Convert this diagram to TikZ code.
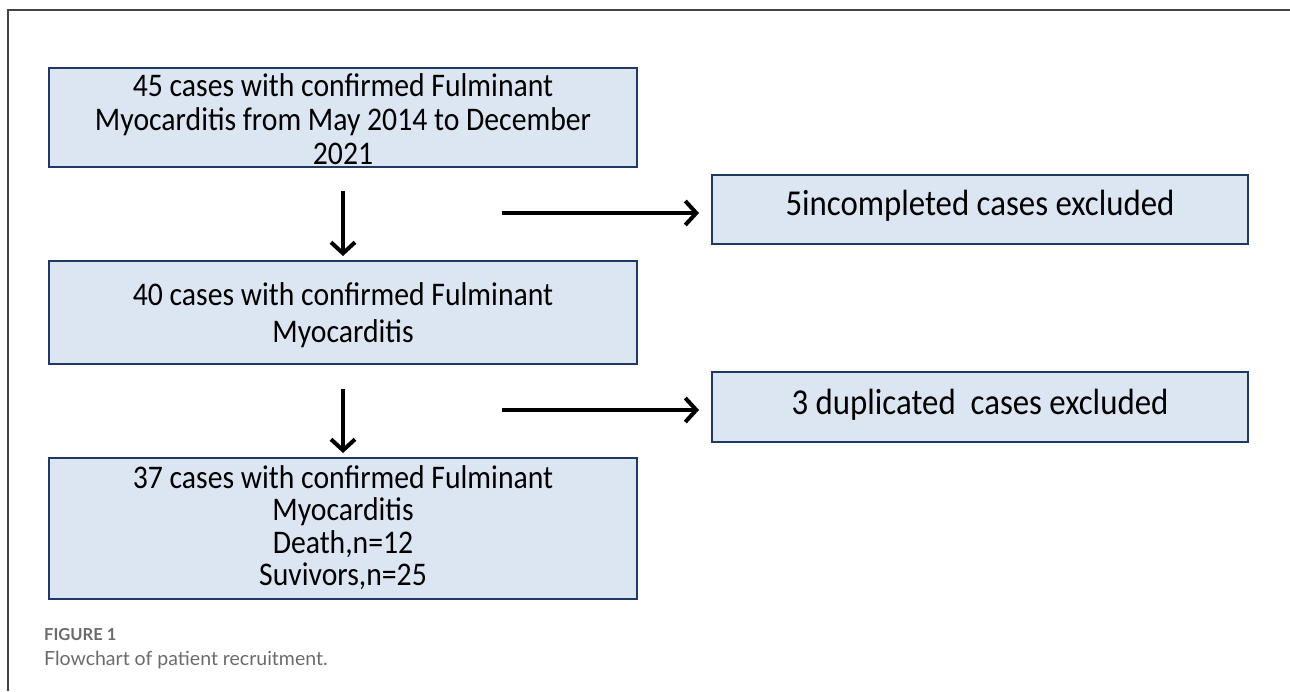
\documentclass[tikz,border=0pt]{standalone}
\usepackage{fontspec}
\setmainfont{Carlito}[FakeStretch=0.9]
\newfontfamily\capfont{Lato}
\usetikzlibrary{arrows.meta}
\definecolor{boxfill}{HTML}{DCE6F2}
\definecolor{boxline}{HTML}{1F3864}
\definecolor{capgray}{HTML}{6B6B6B}
\definecolor{framegray}{HTML}{444444}
\begin{document}
\begin{tikzpicture}[x=1pt,y=-1pt,
  flowbox/.style={draw=boxline, line width=2pt, fill=boxfill, inner sep=0pt},
  flowtext/.style={inner sep=0pt, align=center, font=\fontsize{33}{36}\selectfont},
  flowarrow/.style={line width=4pt, -{Straight Barb[length=11pt,width=24pt,line width=4pt]}}]
\useasboundingbox (0,0) rectangle (1290,691);
\draw[framegray, line width=2pt] (1290,10) -- (8,10) -- (8,691);
\node[flowbox, minimum width=588pt, minimum height=99pt,
  label={[flowtext, yshift=-2pt, font=\fontsize{33}{34}\selectfont]center:{45 cases with confirmed Fulminant\\Myocarditis from May 2014 to December\\2021}}] (b1) at (343,117.5) {};
\node[flowbox, minimum width=588pt, minimum height=103pt,
  label={[flowtext, yshift=-3pt, font=\fontsize{33}{37}\selectfont]center:{40 cases with confirmed Fulminant\\Myocarditis}}] (b2) at (343,312.5) {};
\node[flowbox, minimum width=588pt, minimum height=141pt,
  label={[flowtext, yshift=1pt, font=\fontsize{33}{32.5}\selectfont]center:{37 cases with confirmed Fulminant\\Myocarditis\\Death,n=12\\Suvivors,n=25}}] (b3) at (343,528.5) {};
\node[flowbox, minimum width=536pt, minimum height=69pt,
  label={[flowtext, yshift=4pt, font=\fontsize{36.5}{38}\selectfont]center:{5incompleted cases excluded}}] (r1) at (980,209.5) {};
\node[flowbox, minimum width=536pt, minimum height=70pt,
  label={[flowtext, yshift=2pt, font=\fontsize{36.5}{38}\selectfont]center:{3 duplicated\ \ cases excluded}}] (r2) at (980,407) {};
\coordinate (h1) at (502,213);
\coordinate (h2) at (502,410);
\draw[flowarrow, shorten <=23pt, shorten >=4pt] (b1) -- (b2);
\draw[flowarrow, shorten <=24pt, shorten >=4pt] (b2) -- (b3);
\draw[flowarrow, shorten >=12pt] (h1) -- (h1 -| r1.west);
\draw[flowarrow, shorten >=12pt] (h2) -- (h2 -| r2.west);
\node[anchor=west, inner sep=0pt, text=capgray, font=\capfont\bfseries\fontsize{16.5}{18}\selectfont] (fig) at (44,635) {FIGURE 1};
\node[anchor=west, inner sep=0pt, text=capgray, font=\capfont\fontsize{19.5}{23}\selectfont] (cap) at (44,660) {Flowchart of patient recruitment.};
\end{tikzpicture}
\end{document}
